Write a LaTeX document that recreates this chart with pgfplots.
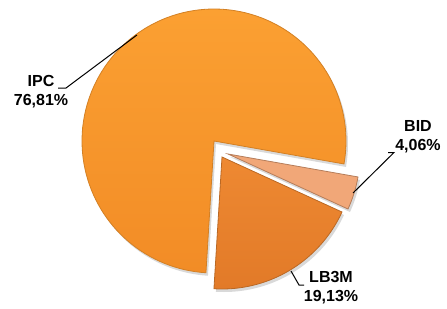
\documentclass[border=0pt]{standalone}
\usepackage{pgfplots}
\pgfplotsset{compat=1.18}
\usepackage{pgfplotstable}
\usepackage{fontspec}
\setmainfont{Liberation Sans}
\pgfplotstableread{
name  value  cx   cy
IPC   76.81  214  141
LB3M  19.13  222  157
BID   4.06   228  154
}\piedata
\definecolor{ipcc}{RGB}{248,150,42}
\definecolor{ipct}{RGB}{251,160,50}
\definecolor{ipcb}{RGB}{242,140,38}
\definecolor{lbc}{RGB}{233,130,45}
\definecolor{lbt}{RGB}{238,137,50}
\definecolor{lbb}{RGB}{226,122,40}
\definecolor{bidc}{RGB}{241,167,120}
\pgfplotstablegetelem{0}{value}\of\piedata\let\vIPC\pgfplotsretval
\pgfplotstablegetelem{1}{value}\of\piedata\let\vLB\pgfplotsretval
\pgfplotstablegetelem{2}{value}\of\piedata\let\vBID\pgfplotsretval
\pgfmathsetmacro\aLBs{-93.5}
\pgfmathsetmacro\aLBe{\aLBs+3.6*\vLB}
\pgfmathsetmacro\aBIDe{\aLBe+3.6*\vBID}
\pgfmathsetmacro\aIPCe{\aBIDe+3.6*\vIPC}
\def\R{132}
\begin{document}
\begin{tikzpicture}
\begin{axis}[width=447pt,height=308pt,scale only axis,
  xmin=0,xmax=447,ymin=0,ymax=308,y dir=reverse,hide axis,clip=false]
\path (rel axis cs:0,0) rectangle (rel axis cs:1,1);
% shadows
\addplot[draw=none,fill=black,opacity=0.15,domain=\aBIDe:\aIPCe,samples=120,variable=\t]
  ({216+\R*cos(\t)},{144-\R*sin(\t)}) -- (216,144) -- cycle;
\addplot[draw=none,fill=black,opacity=0.15,domain=\aLBs:\aLBe,samples=60,variable=\t]
  ({224+\R*cos(\t)},{160-\R*sin(\t)}) -- (224,160) -- cycle;
\addplot[draw=none,fill=black,opacity=0.15,domain=\aLBe:\aBIDe,samples=20,variable=\t]
  ({230+\R*cos(\t)},{157-\R*sin(\t)}) -- (230,157) -- cycle;
% slices
\addplot[top color=ipct,bottom color=ipcb,draw=ipcc!85!black,line width=0.8pt,domain=\aBIDe:\aIPCe,samples=120,variable=\t]
  ({214+\R*cos(\t)},{141-\R*sin(\t)}) -- (214,141) -- cycle;
\addplot[top color=lbt,bottom color=lbb,draw=lbc!80!black,line width=0.8pt,domain=\aLBs:\aLBe,samples=60,variable=\t]
  ({222+\R*cos(\t)},{157-\R*sin(\t)}) -- (222,157) -- cycle;
\addplot[fill=bidc,draw=bidc!75!black,line width=0.8pt,domain=\aLBe:\aBIDe,samples=20,variable=\t]
  ({228+\R*cos(\t)},{154-\R*sin(\t)}) -- (228,154) -- cycle;
% leader lines
\draw[line width=1pt] (58,88) -- (66,88) -- (137,35);
\draw[line width=1pt] (388,152.5) -- (394,152.5) -- (353,193);
\draw[line width=1pt] (291,271) -- (299,285) -- (304,285);
% labels
\node[font=\fontsize{16}{19}\selectfont\bfseries,align=center,anchor=center] at (41,92) {IPC\\76,81\%};
\node[font=\fontsize{16}{19}\selectfont\bfseries,align=center,anchor=center] at (418,137) {BID\\4,06\%};
\node[font=\fontsize{16}{19}\selectfont\bfseries,align=center,anchor=center] at (331,288) {LB3M\\19,13\%};
\end{axis}
\end{tikzpicture}
\end{document}
